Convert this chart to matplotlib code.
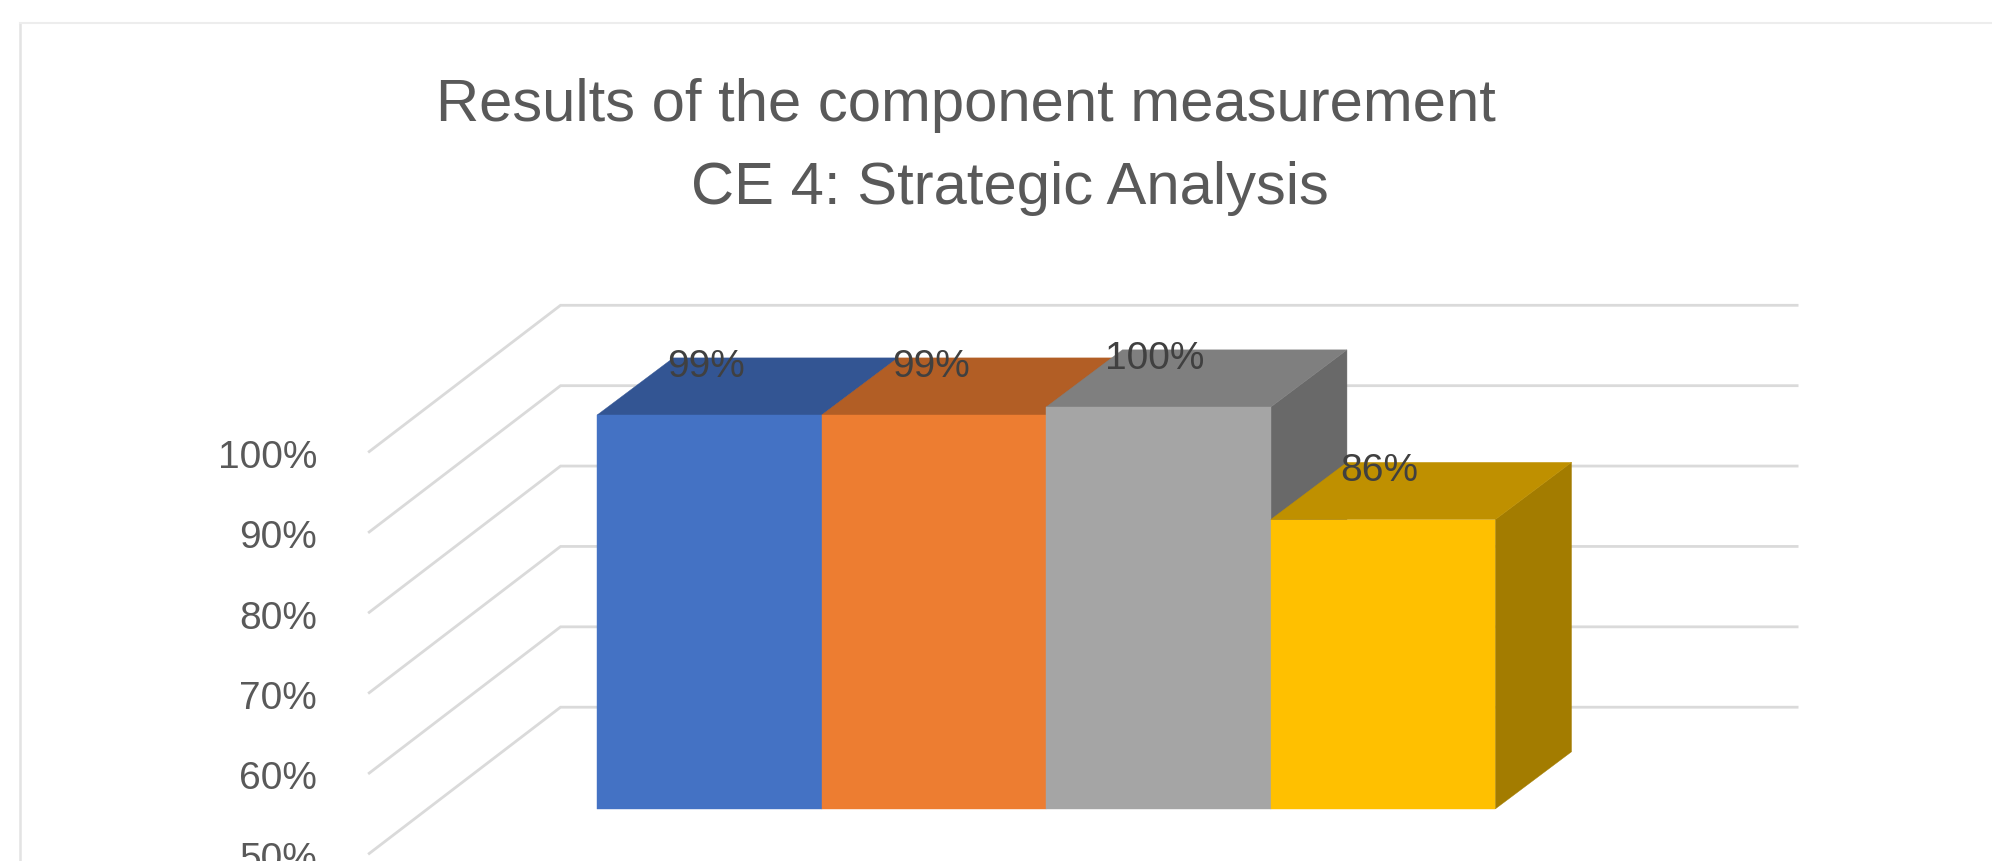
import matplotlib
matplotlib.use('Agg')
import matplotlib.pyplot as plt
from matplotlib.lines import Line2D
from matplotlib.patches import Polygon

plt.rcParams['font.family'] = ['Liberation Sans', 'DejaVu Sans']

# values
values = [99, 99, 100, 86]
grid_levels = [50, 60, 70, 80, 90, 100]
tick_labels = ['50%', '60%', '70%', '80%', '90%', '100%']
title_lines = ['Results of the component measurement', 'CE 4: Strategic Analysis']

front_colors = ['#4472C4', '#ED7D31', '#A5A5A5', '#FFC000']
top_colors = ['#335593', '#B25E25', '#7F7F7F', '#BF9000']
side_colors = ['#28457A', '#8F4B1D', '#696969', '#A37C00']

W, H = 1992, 861
SCALE = 1992 / 1568  # positions below were measured on the 1568 wide view
BAR_W = 176.75  # view px for one category
PCT = 6.33  # view px for one percent
DX = 60 / BAR_W  # shear for one unit of depth
DY = 45 / PCT
WALL_LEFT, WALL_RIGHT = -0.767, 4.74
D_BACK, D_FRONT = 1.78, -0.78


def proj(x, y, d):
    return x + d * DX, y + d * DY


def poly(ax, pts, color, z):
    ax.add_patch(Polygon([proj(*p) for p in pts], closed=True, facecolor=color,
                         edgecolor=color, linewidth=0.3, zorder=z))


fig = plt.figure(figsize=(W / 100, H / 100), dpi=100)
ax = fig.add_axes([0, 0, 1, 1])
ax.set_xlim(-470 / BAR_W, (1568 - 470) / BAR_W)
ax.set_ylim(50 - (678 - 637) / PCT, 50 + 637 / PCT)
ax.axis('off')

# chart frame, runs off the picture on the right
fig.add_artist(Line2D([20 / W, 20 / W], [0, 1 - 23 / H], color='#E3E3E3', lw=1.8))
fig.add_artist(Line2D([20 / W, 1], [1 - 23 / H, 1 - 23 / H], color='#EDEDED', lw=1.5))

# walls
for level, label in zip(grid_levels, tick_labels):
    x0, y0 = proj(WALL_LEFT, level, D_FRONT)
    x1, y1 = proj(WALL_LEFT, level, D_BACK)
    x2, y2 = proj(WALL_RIGHT, level, D_BACK)
    ax.plot([x0 + 3 / BAR_W, x1, x2], [y0, y1, y2], color='#DADADA', lw=2, zorder=1,
            solid_joinstyle='miter')
    ax.text(x0 - 38 / BAR_W, y0 - 5 / PCT, label, ha='right', va='center', fontsize=28,
            color='#595959')

# bars, left to right so that each one covers the one before it
for i, v in enumerate(values):
    z = 2 + i
    poly(ax, [(i + 1, 50, 0), (i + 1, 50, 1), (i + 1, v, 1), (i + 1, v, 0)], side_colors[i], z)
    poly(ax, [(i, v, 0), (i + 1, v, 0), (i + 1, v, 1), (i, v, 1)], top_colors[i], z)
    poly(ax, [(i, 50, 0), (i + 1, 50, 0), (i + 1, v, 0), (i, v, 0)], front_colors[i], z)

# data labels
for i, v in enumerate(values):
    ax.text(i + 0.485, v + 6.0, '%d%%' % v, ha='center', va='center', fontsize=28,
            color='#404040', zorder=10)

# the two title lines are not centred on each other in the original
fig.text(760 * SCALE / W, 1 - 95.5 * SCALE / H, title_lines[0], ha='center', va='baseline',
         fontsize=43, color='#595959')
fig.text(795 * SCALE / W, 1 - 160.5 * SCALE / H, title_lines[1], ha='center', va='baseline',
         fontsize=43, color='#595959')

fig.savefig('out.png', dpi=100)
